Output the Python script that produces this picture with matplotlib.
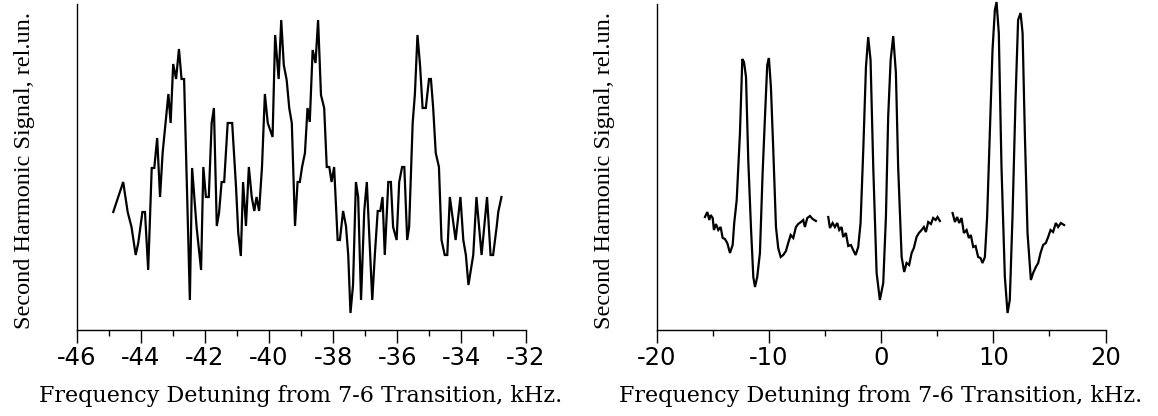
import matplotlib
matplotlib.use("Agg")
import matplotlib.pyplot as plt
import numpy as np
from matplotlib.ticker import MultipleLocator

# ---------------- data (left panel) ----------------
left_freq = [-44.86, -44.55, -44.41, -44.29, -44.16, -44.08, -43.95, -43.87, -43.77, -43.66,
             -43.58, -43.49, -43.40, -43.32, -43.22, -43.14, -43.07, -42.99, -42.90, -42.81,
             -42.73, -42.65, -42.47, -42.40, -42.26, -42.12, -42.05, -41.97, -41.88, -41.79,
             -41.72, -41.63, -41.56, -41.48, -41.40, -41.29, -41.15, -41.03, -40.96, -40.88,
             -40.81, -40.72, -40.63, -40.54, -40.46, -40.39, -40.31, -40.22, -40.13, -40.04,
             -39.89, -39.81, -39.70, -39.62, -39.54, -39.45, -39.37, -39.29, -39.19, -39.11,
             -39.04, -38.97, -38.88, -38.80, -38.73, -38.64, -38.55, -38.47, -38.38, -38.28,
             -38.20, -38.12, -38.05, -37.97, -37.86, -37.79, -37.69, -37.60, -37.53, -37.46,
             -37.38, -37.29, -37.22, -37.13, -37.03, -36.95, -36.78, -36.70, -36.61, -36.53,
             -36.46, -36.39, -36.28, -36.20, -36.13, -36.02, -35.94, -35.85, -35.78, -35.69,
             -35.63, -35.52, -35.45, -35.37, -35.29, -35.21, -35.11, -35.01, -34.95, -34.88,
             -34.80, -34.70, -34.62, -34.52, -34.44, -34.36, -34.18, -34.03, -33.94, -33.86,
             -33.78, -33.63, -33.53, -33.37, -33.20, -33.09, -33.01, -32.90, -32.85, -32.75]
left_signal = [1.18, 1.48, 1.18, 1.03, 0.75, 0.87, 1.18, 1.18, 0.60, 1.62,
               1.62, 1.92, 1.33, 1.77, 2.10, 2.36, 2.07, 2.66, 2.51, 2.81,
               2.51, 2.51, 0.30, 1.62, 1.03, 0.60, 1.63, 1.33, 1.33, 2.07,
               2.22, 1.04, 1.17, 1.48, 1.48, 2.07, 2.07, 1.43, 0.97, 0.74,
               1.48, 1.04, 1.63, 1.33, 1.19, 1.33, 1.19, 1.63, 2.36, 2.07,
               1.93, 2.95, 2.51, 3.10, 2.65, 2.50, 2.22, 2.07, 1.04, 1.48,
               1.48, 1.63, 1.77, 2.22, 2.08, 2.80, 2.67, 3.10, 2.35, 2.22,
               1.63, 1.63, 1.48, 1.63, 0.90, 0.90, 1.19, 1.04, 0.75, 0.17,
               0.45, 1.48, 1.33, 0.30, 1.19, 1.48, 0.30, 0.75, 1.19, 1.19,
               1.33, 0.75, 1.48, 1.48, 1.03, 0.90, 1.48, 1.63, 1.63, 0.90,
               1.03, 2.07, 2.36, 2.95, 2.65, 2.22, 2.22, 2.51, 2.51, 2.22,
               1.77, 1.63, 0.90, 0.75, 0.75, 1.33, 0.90, 1.33, 0.90, 0.75,
               0.45, 0.75, 1.33, 0.75, 1.33, 0.75, 0.75, 1.03, 1.18, 1.33]

# ---------------- data (right panel, three scans) ----------------
scan1_freq = [-15.70, -15.49, -15.31, -15.19, -15.01, -14.90, -14.72, -14.51, -14.30, -14.12,
              -13.92, -13.71, -13.47, -13.23, -13.09, -12.87, -12.58, -12.37, -12.22, -12.04,
              -11.84, -11.60, -11.39, -11.24, -11.04, -10.80, -10.56, -10.35, -10.15, -10.00,
              -9.82, -9.61, -9.37, -9.17, -8.95, -8.72, -8.48, -8.28, -8.06, -7.83,
              -7.59, -7.39, -7.14, -6.94, -6.79, -6.58, -6.34, -6.10, -5.81]
scan1_signal = [1.13, 1.18, 1.10, 1.15, 1.12, 1.00, 1.06, 1.00, 1.03, 0.92,
                0.91, 0.87, 0.77, 0.85, 1.07, 1.30, 1.97, 2.71, 2.68, 2.53,
                1.70, 1.03, 0.53, 0.43, 0.53, 0.77, 1.57, 2.13, 2.65, 2.72,
                2.43, 1.80, 1.03, 0.82, 0.73, 0.75, 0.79, 0.87, 0.95, 0.92,
                1.03, 1.06, 1.08, 1.10, 1.03, 1.12, 1.14, 1.11, 1.09]

scan2_freq = [-4.71, -4.56, -4.32, -4.12, -3.91, -3.73, -3.52, -3.38, -3.14, -2.93,
              -2.69, -2.49, -2.27, -2.04, -1.83, -1.59, -1.35, -1.15, -0.94, -0.70,
              -0.40, -0.11, 0.19, 0.43, 0.63, 0.85, 1.08, 1.32, 1.52, 1.83,
              2.06, 2.27, 2.50, 2.72, 2.92, 3.16, 3.37, 3.61, 3.81, 3.99,
              4.20, 4.44, 4.64, 4.86, 5.03, 5.24]
scan2_signal = [1.13, 1.02, 1.07, 1.03, 1.07, 1.00, 1.03, 0.93, 0.97, 0.84,
                0.85, 0.80, 0.75, 0.83, 1.07, 1.80, 2.63, 2.93, 2.70, 1.63,
                0.57, 0.30, 0.47, 1.13, 2.13, 2.70, 2.94, 2.57, 1.63, 0.73,
                0.58, 0.67, 0.65, 0.77, 0.82, 0.93, 0.97, 1.00, 1.03, 0.98,
                1.08, 1.06, 1.12, 1.10, 1.13, 1.09]

scan3_freq = [6.37, 6.58, 6.78, 6.96, 7.17, 7.38, 7.62, 7.82, 8.00, 8.21,
              8.42, 8.65, 8.86, 9.04, 9.25, 9.45, 9.69, 9.93, 10.14, 10.29,
              10.49, 10.73, 11.03, 11.27, 11.47, 11.71, 11.98, 12.21, 12.43, 12.61,
              12.81, 13.05, 13.35, 13.55, 13.79, 14.00, 14.21, 14.44, 14.68, 14.89,
              15.10, 15.33, 15.57, 15.78, 16.02, 16.31]
scan3_signal = [1.17, 1.08, 1.13, 1.07, 1.12, 0.97, 1.00, 0.92, 0.95, 0.83,
                0.84, 0.73, 0.72, 0.67, 0.73, 1.13, 1.97, 2.80, 3.20, 3.28,
                2.97, 1.63, 0.53, 0.17, 0.30, 1.13, 2.30, 3.10, 3.17, 2.97,
                1.97, 0.97, 0.50, 0.57, 0.63, 0.67, 0.77, 0.85, 0.87, 0.93,
                1.00, 0.98, 1.07, 1.03, 1.07, 1.05]

left_ticks = [-46, -44, -42, -40, -38, -36, -34, -32]
right_ticks = [-20, -10, 0, 10, 20]
xlabel_text = "Frequency Detuning from 7-6 Transition, kHz."
ylabel_text = "Second Harmonic Signal, rel.un."

# ---------------- figure ----------------
W, H = 1158, 416
fig = plt.figure(figsize=(W / 100, H / 100), dpi=100)

ax_w = 448.8 / W
ax_b = 1 - 330 / H
ax_h = 326 / H
ax1 = fig.add_axes([76.7 / W, ax_b, ax_w, ax_h])
ax2 = fig.add_axes([656.7 / W, ax_b, ax_w, ax_h])

line_kw = dict(color="black", lw=1.6, clip_on=False, solid_joinstyle="miter")
ax1.plot(left_freq, left_signal, **line_kw)
ax2.plot(scan1_freq, scan1_signal, **line_kw)
ax2.plot(scan2_freq, scan2_signal, **line_kw)
ax2.plot(scan3_freq, scan3_signal, **line_kw)

ax1.set_xlim(-46, -32)
ax2.set_xlim(-20, 20)
ax1.xaxis.set_minor_locator(MultipleLocator(1))
ax2.xaxis.set_minor_locator(MultipleLocator(5))

for ax, ticks in ((ax1, left_ticks), (ax2, right_ticks)):
    ax.set_ylim(0, 3.26)
    ax.set_xticks(ticks)
    ax.set_xticklabels([str(t) for t in ticks], fontfamily="DejaVu Sans", fontsize=17.5)
    ax.set_yticks([])
    for s in ("top", "right"):
        ax.spines[s].set_visible(False)
    for s in ("left", "bottom"):
        ax.spines[s].set_linewidth(1.0)
    ax.tick_params(axis="x", which="major", direction="out", length=9.5, width=1.0, pad=2)
    ax.tick_params(axis="x", which="minor", direction="out", length=4, width=1.0)
    ax.set_xlabel(xlabel_text, fontfamily="DejaVu Serif", fontsize=16, va="center")
    ax.xaxis.set_label_coords(0.5, -0.202)
    ax.set_ylabel(ylabel_text, fontfamily="Liberation Serif", fontsize=17.5, va="center")
    ax.yaxis.set_label_coords(-0.117, 0.49)

fig.savefig("out.png", dpi=100)
